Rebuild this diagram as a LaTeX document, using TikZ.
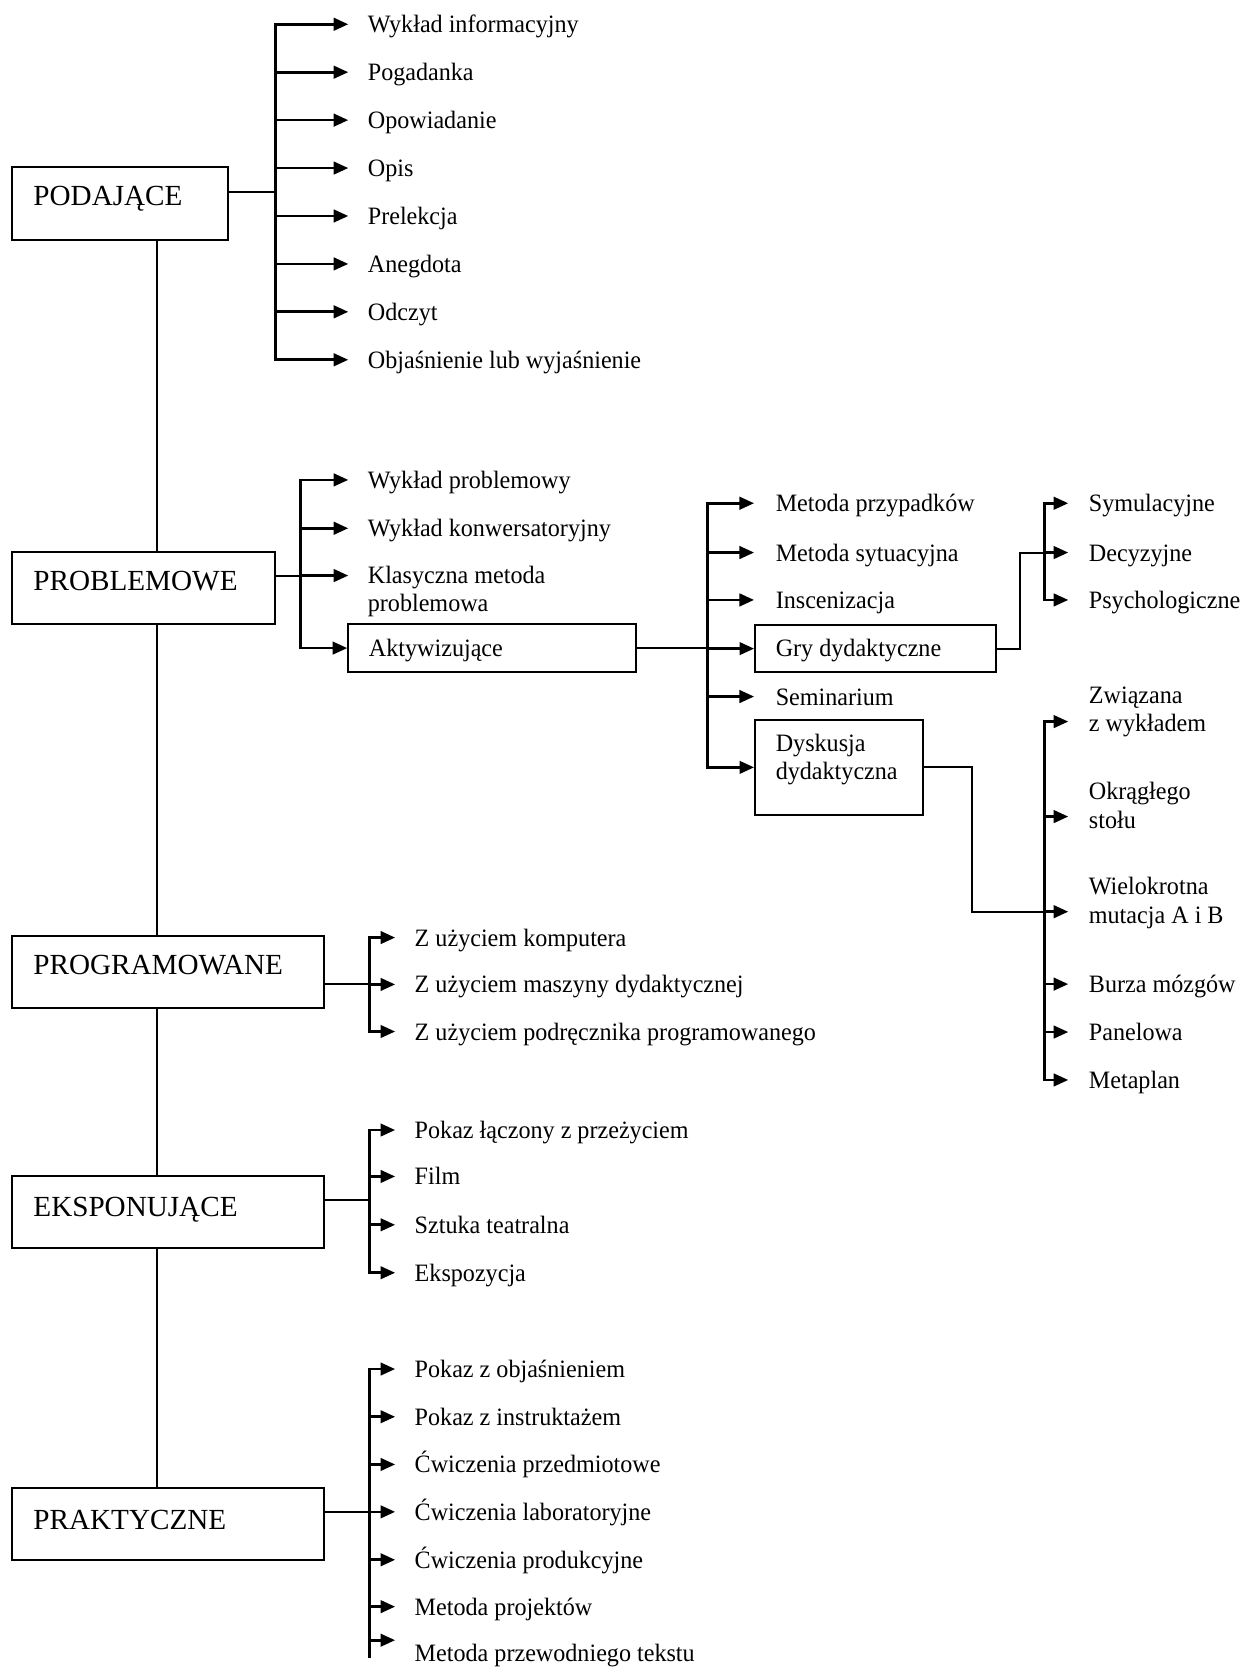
\documentclass[tikz,border=0pt]{standalone}
\usepackage{fontspec}
\setmainfont{Liberation Serif}
\newfontfamily\itemfont{Liberation Serif}[FakeStretch=0.965]
\usetikzlibrary{arrows.meta,fit}
\tikzset{
 box/.style={draw, line width=1pt, inner sep=0pt},
 conn/.style={line width=1pt},
 bus/.style={line width=1.3pt, line cap=rect},
 arr/.style={line width=1.3pt, -{Triangle[length=7pt,width=6pt]}},
 itm/.style={anchor=base west, inner sep=0pt, font=\itemfont\fontsize{12}{13.5}\selectfont, align=left},
 big/.style={anchor=base west, inner sep=0pt, font=\fontsize{14}{16}\selectfont},
}
% name, bus coordinate, tip x, text x, arrow y, text
\newcommand\leaf[6]{%
 \coordinate (#1t) at (#3,#5);
 \draw[arr] (#1t -| #2) -- (#1t);
 \node[itm] (#1) at (#4,#5+8) {#6};}
% name, bus coordinate, tip x, text x, arrow y, text, last baseline y
\newcommand\leafm[7]{%
 \coordinate (#1t) at (#3,#5);
 \draw[arr] (#1t -| #2) -- (#1t);
 \node[itm] (#1) at (#4,#7) {#6};}
\begin{document}
\begin{tikzpicture}[x=0.5113pt,y=-0.5113pt]
\useasboundingbox (0,0) rectangle (1165,1568);
\coordinate (T) at (147,0);

% PODAJACE
\node[box, fit={(11,157) (214,225)}] (pod) {};
\node[big] (podL) at (31,193.4) {PODAJĄCE};
\coordinate (B1) at (259,180);
\draw[conn] (B1 -| pod.east) -- (B1);
\leaf{p1}{B1}{327}{345}{22.8}{Wykład informacyjny}
\leaf{p2}{B1}{327}{345}{67.8}{Pogadanka}
\leaf{p3}{B1}{327}{345}{112.8}{Opowiadanie}
\leaf{p4}{B1}{327}{345}{157.8}{Opis}
\leaf{p5}{B1}{327}{345}{202.8}{Prelekcja}
\leaf{p6}{B1}{327}{345}{247.8}{Anegdota}
\leaf{p7}{B1}{327}{345}{292.8}{Odczyt}
\leaf{p8}{B1}{327}{345}{337.8}{Objaśnienie lub wyjaśnienie}
\draw[bus] (p1t -| B1) -- (p8t -| B1);

% PROBLEMOWE
\node[box, fit={(11,518) (258,586)}] (prob) {};
\node[big] (probL) at (31,554) {PROBLEMOWE};
\coordinate (B2) at (282,540.4);
\draw[conn] (B2 -| prob.east) -- (B2);
\leaf{r1}{B2}{327}{345}{450.6}{Wykład problemowy}
\leaf{r2}{B2}{327}{345}{496}{Wykład konwersatoryjny}
\leafm{r3}{B2}{327}{345}{540.4}{Klasyczna metoda\\problemowa}{574.2}
\node[box, fit={(327,586) (597,631)}] (akt) {};
\node[itm] (aktL) at (346,616.5) {Aktywizujące};
\draw[arr] (akt.west -| B2) -- (akt.west);
\draw[bus] (r1t -| B2) -- (akt.west -| B2);

% Aktywizujace sub
\coordinate (B3) at (664,0);
\draw[conn] (akt.east) -- (akt.east -| B3);
\leaf{a1}{B3}{708}{728}{472.5}{Metoda przypadków}
\leaf{a2}{B3}{708}{728}{518.8}{Metoda sytuacyjna}
\leaf{a3}{B3}{708}{728}{563.3}{Inscenizacja}
\node[box, fit={(709,587) (935,631)}] (gry) {};
\node[itm] (gryL) at (728,616.5) {Gry dydaktyczne};
\draw[arr] (gry.west -| B3) -- (gry.west);
\leaf{a4}{B3}{708}{728}{654}{Seminarium}
\node[box, fit={(709,676) (867,765)}] (dysk) {};
\node[itm] (dyskL) at (728,732) {Dyskusja\\dydaktyczna};
\draw[arr] (dysk.west -| B3) -- (dysk.west);
\draw[bus] (a1t -| B3) -- (dysk.west -| B3);

% Gry sub
\coordinate (G1) at (958,0);
\coordinate (B4) at (981,0);
\leaf{g1}{B4}{1003}{1022}{472.5}{Symulacyjne}
\leaf{g2}{B4}{1003}{1022}{518.8}{Decyzyjne}
\leaf{g3}{B4}{1003}{1022}{563.3}{Psychologiczne}
\draw[conn] (gry.east) -- (gry.east -| G1) |- (g2t -| B4);
\draw[bus] (g1t -| B4) -- (g3t -| B4);

% Dyskusja sub
\coordinate (D1) at (913,0);
\leafm{d1}{B4}{1003}{1022}{677.5}{Związana\\z wykładem}{687}
\leafm{d2}{B4}{1003}{1022}{766.7}{Okrągłego\\stołu}{777.5}
\leafm{d3}{B4}{1003}{1022}{856}{Wielokrotna\\mutacja A i B}{866.7}
\leaf{d4}{B4}{1003}{1022}{924}{Burza mózgów}
\leaf{d5}{B4}{1003}{1022}{969}{Panelowa}
\leaf{d6}{B4}{1003}{1022}{1014}{Metaplan}
\draw[conn] (dysk.east) -- (dysk.east -| D1) |- (d3t -| B4);
\draw[bus] (d1t -| B4) -- (d6t -| B4);

% PROGRAMOWANE
\node[box, fit={(11,879) (304,946)}] (prog) {};
\node[big] (progL) at (31,915.3) {PROGRAMOWANE};
\coordinate (B5) at (347,924.3);
\draw[conn] (B5 -| prog.east) -- (B5);
\leaf{m1}{B5}{371}{389}{880.3}{Z użyciem komputera}
\leaf{m2}{B5}{371}{389}{924.3}{Z użyciem maszyny dydaktycznej}
\leaf{m3}{B5}{371}{389}{968.5}{Z użyciem podręcznika programowanego}
\draw[bus] (m1t -| B5) -- (m3t -| B5);

% EKSPONUJACE
\node[box, fit={(11,1104) (304,1172)}] (eksp) {};
\node[big] (ekspL) at (31,1142) {EKSPONUJĄCE};
\coordinate (B6) at (347,1126.6);
\draw[conn] (B6 -| eksp.east) -- (B6);
\leaf{e1}{B6}{371}{389}{1061}{Pokaz łączony z przeżyciem}
\leaf{e2}{B6}{371}{389}{1104.6}{Film}
\leaf{e3}{B6}{371}{389}{1150}{Sztuka teatralna}
\leaf{e4}{B6}{371}{389}{1195}{Ekspozycja}
\draw[bus] (e1t -| B6) -- (e4t -| B6);

% PRAKTYCZNE
\node[box, fit={(11,1397) (304,1465)}] (prak) {};
\node[big] (prakL) at (31,1436) {PRAKTYCZNE};
\coordinate (B7) at (347,1419.5);
\coordinate (B7e) at (347,1555);
\draw[conn] (B7 -| prak.east) -- (B7);
\leaf{k1}{B7}{371}{389}{1285.4}{Pokaz z objaśnieniem}
\leaf{k2}{B7}{371}{389}{1330.2}{Pokaz z instruktażem}
\leaf{k3}{B7}{371}{389}{1375}{Ćwiczenia przedmiotowe}
\leaf{k4}{B7}{371}{389}{1419.5}{Ćwiczenia laboratoryjne}
\leaf{k5}{B7}{371}{389}{1464.5}{Ćwiczenia produkcyjne}
\leaf{k6}{B7}{371}{389}{1508.5}{Metoda projektów}
\leafm{k7}{B7}{371}{389}{1540}{Metoda przewodniego tekstu}{1560}
\draw[bus] (k1t -| B7) -- (B7e);

% trunk
\draw[conn] (T |- pod.south) -- (T |- prob.north);
\draw[conn] (T |- prob.south) -- (T |- prog.north);
\draw[conn] (T |- prog.south) -- (T |- eksp.north);
\draw[conn] (T |- eksp.south) -- (T |- prak.north);
\end{tikzpicture}
\end{document}
